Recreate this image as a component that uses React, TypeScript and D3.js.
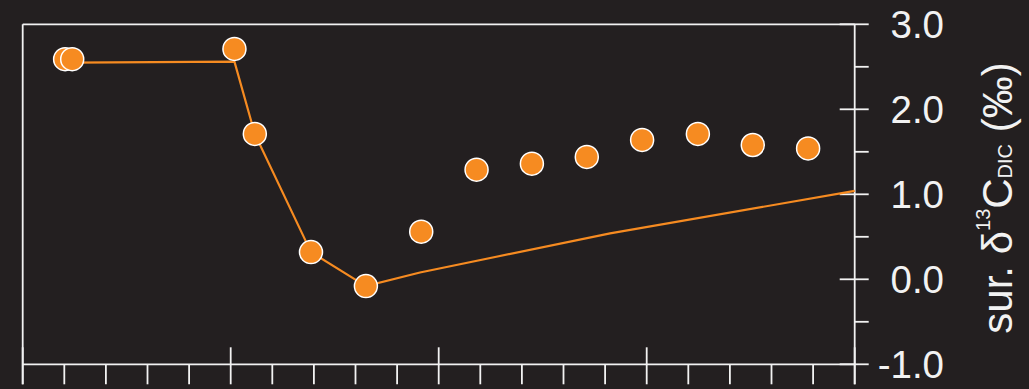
import React from 'react'
import * as d3 from 'd3';

// measured points (x in axis units 0-20, y in permil)
const sampleX = [1.02, 1.19, 5.09, 5.58, 6.93, 8.25, 9.58, 10.91, 12.24, 13.56, 14.89, 16.23, 17.55, 18.88];
const sampleY = [2.59, 2.59, 2.71, 1.71, 0.32, -0.08, 0.56, 1.29, 1.36, 1.44, 1.64, 1.71, 1.58, 1.54];

// model curve
const modelX = [1.19, 5.09, 5.58, 6.93, 8.25, 9.55, 14.12, 20];
const modelY = [2.55, 2.56, 1.71, 0.32, -0.08, 0.08, 0.54, 1.04];

const yTickLabels = ['-1.0', '0.0', '1.0', '2.0', '3.0'];

const W = 1029, H = 389;
const BG = '#231f20';
const ORANGE = '#f68b21';
const AXIS = '#f2f2f2';

const App = () => {
  const x = d3.scaleLinear().domain([0, 20]).range([22.7, 854.7]);
  const y = d3.scaleLinear().domain([-1, 3]).range([364.3, 24.3]);

  const line = d3.line<number>()
    .x((d, i) => x(modelX[i]))
    .y((d) => y(d));

  const xTicks = d3.range(0, 21);
  const yMajor = yTickLabels.map(Number);
  const yMinor = [-0.5, 0.5, 1.5, 2.5];
  const bottom = y(-1);
  const right = x(20);

  return (
    <svg width={W} height={H} style={{ position: 'absolute', left: 0, top: 0, background: BG }}
      fontFamily="'Liberation Sans', Arial, sans-serif">
      <rect width={W} height={H} fill={BG} />
      {/* frame */}
      <g stroke={AXIS} strokeWidth={1.8} fill="none">
        <line x1={x(0)} x2={right} y1={y(3)} y2={y(3)} />
        <line x1={x(0)} x2={x(0)} y1={y(3)} y2={bottom + 20} />
        <line x1={x(0)} x2={right} y1={bottom} y2={bottom} />
        <line x1={right} x2={right} y1={y(3)} y2={bottom + 20} />
        {xTicks.map((t) => (
          <line key={'xt' + t} x1={x(t)} x2={x(t)} y1={t % 5 === 0 ? bottom - 17 : bottom} y2={bottom + 20} />
        ))}
        {yMajor.map((t) => (
          <line key={'ym' + t} x1={right - 15} x2={right + 14} y1={y(t)} y2={y(t)} />
        ))}
        {yMinor.map((t) => (
          <line key={'yn' + t} x1={right} x2={right + 14} y1={y(t)} y2={y(t)} />
        ))}
      </g>
      {yTickLabels.map((lab) => (
        <text key={lab} x={944} y={y(Number(lab))} textAnchor="end" dominantBaseline="central"
          fill={AXIS} fontSize={38.5}>{lab}</text>
      ))}
      <text transform={`translate(1012, 198) rotate(-90)`} textAnchor="middle" fill={AXIS} fontSize={42}>
        sur. δ<tspan fontSize={20} dy={-22}>13</tspan><tspan dy={22}>C</tspan><tspan fontSize={20}>DIC</tspan> (‰)
      </text>
      <path d={line(modelY) ?? ''} fill="none" stroke={ORANGE} strokeWidth={2.2} />
      {sampleX.map((sx, i) => (
        <circle key={i} cx={x(sx)} cy={y(sampleY[i])} r={11.5} fill={ORANGE} stroke="#ffffff" strokeWidth={1.5} />
      ))}
    </svg>
  )
}

export default App
